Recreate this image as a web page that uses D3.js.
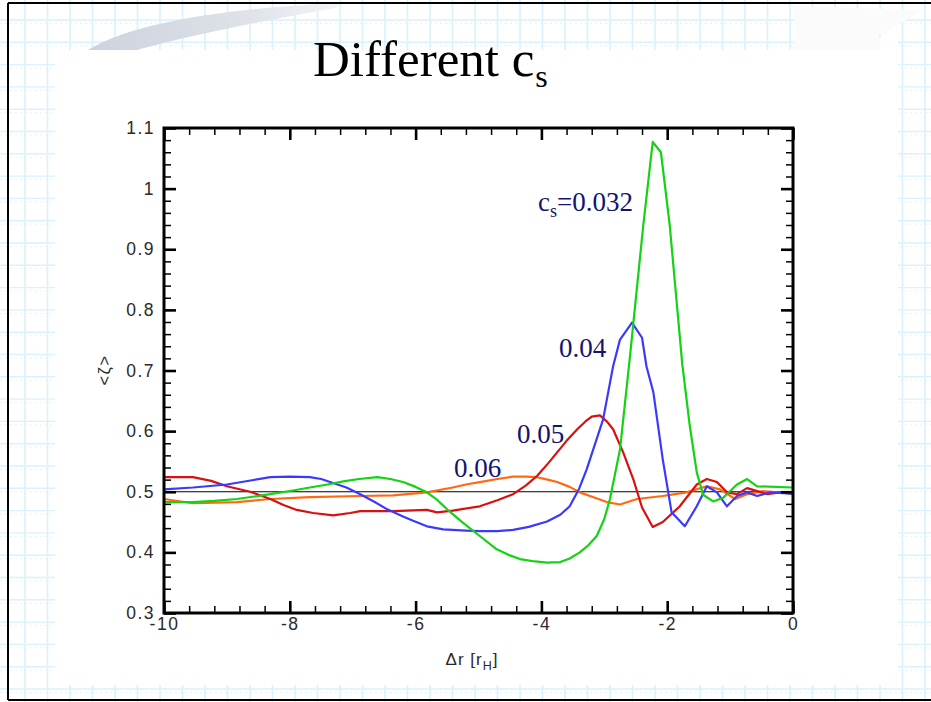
<!DOCTYPE html>
<html><head><meta charset="utf-8">
<script src="https://cdn.jsdelivr.net/npm/d3@7/dist/d3.min.js"></script>
<style>body{margin:0;background:#fff}svg{display:block}</style>
</head><body>
<svg id="c" width="931" height="702"></svg>
<script>
// ---------- data ----------
const titleMain = "Different c";
const titleSub = "s";
const xLabel = "\u0394r [r";
const xLabelSub = "H";
const yLabel = "<\u03B6>";

const xTickValues = [-10, -8, -6, -4, -2, 0];
const xTickLabels = ["-10", "-8", "-6", "-4", "-2", "0"];
const yTickValues = [0.3, 0.4, 0.5, 0.6, 0.7, 0.8, 0.9, 1.0, 1.1];
const yTickLabels = ["0.3", "0.4", "0.5", "0.6", "0.7", "0.8", "0.9", "1", "1.1"];

// c_s = 0.032 (green)
const greenX = [-10, -9.54, -9.2, -8.84, -8.31, -7.95, -7.68, -7.4, -7.15, -6.9, -6.61, -6.4, -6.2, -6.0, -5.82, -5.65, -5.5, -5.25, -4.98, -4.71, -4.5, -4.34, -4.1, -3.91, -3.7, -3.55, -3.39, -3.25, -3.12, -3.0, -2.91, -2.75, -2.59, -2.38, -2.23, -2.1, -1.96, -1.76, -1.64, -1.53, -1.43, -1.27, -1.11, -0.89, -0.73, -0.57, 0];
const greenY = [0.483, 0.483, 0.485, 0.488, 0.496, 0.502, 0.507, 0.512, 0.517, 0.521, 0.524, 0.521, 0.516, 0.508, 0.499, 0.486, 0.471, 0.449, 0.427, 0.405, 0.395, 0.389, 0.385, 0.383, 0.384, 0.390, 0.400, 0.412, 0.427, 0.455, 0.488, 0.570, 0.725, 0.94, 1.077, 1.06, 0.94, 0.71, 0.608, 0.532, 0.495, 0.484, 0.490, 0.512, 0.521, 0.509, 0.507];
// c_s = 0.04 (blue)
const blueX = [-10, -9.54, -9.0, -8.6, -8.31, -8.0, -7.68, -7.5, -7.36, -7.1, -6.88, -6.65, -6.45, -6.2, -6.04, -5.82, -5.56, -5.2, -4.98, -4.7, -4.45, -4.2, -3.91, -3.7, -3.55, -3.4, -3.28, -3.02, -2.86, -2.75, -2.56, -2.4, -2.33, -2.22, -2.07, -1.93, -1.72, -1.53, -1.37, -1.21, -1.05, -0.89, -0.73, -0.57, -0.37, 0];
const blueY = [0.504, 0.507, 0.512, 0.519, 0.524, 0.525, 0.524, 0.521, 0.516, 0.507, 0.496, 0.483, 0.471, 0.459, 0.452, 0.443, 0.438, 0.436, 0.435, 0.435, 0.437, 0.442, 0.451, 0.462, 0.476, 0.505, 0.537, 0.619, 0.707, 0.751, 0.779, 0.754, 0.707, 0.664, 0.553, 0.466, 0.443, 0.476, 0.509, 0.499, 0.476, 0.493, 0.499, 0.493, 0.499, 0.497];
// c_s = 0.05 (red)
const redX = [-10, -9.54, -9.25, -9.0, -8.63, -8.31, -8.1, -7.89, -7.63, -7.31, -7.04, -6.88, -6.36, -5.82, -5.66, -5.41, -4.98, -4.7, -4.45, -4.25, -4.07, -3.9, -3.75, -3.6, -3.43, -3.3, -3.2, -3.07, -2.96, -2.86, -2.7, -2.54, -2.4, -2.23, -2.07, -1.8, -1.53, -1.37, -1.21, -1.05, -0.89, -0.73, -0.57, -0.41, -0.21, 0];
const redY = [0.524, 0.524, 0.518, 0.509, 0.500, 0.488, 0.478, 0.470, 0.465, 0.461, 0.465, 0.468, 0.468, 0.470, 0.466, 0.469, 0.476, 0.486, 0.496, 0.510, 0.526, 0.546, 0.565, 0.584, 0.603, 0.616, 0.624, 0.626, 0.616, 0.603, 0.565, 0.521, 0.474, 0.442, 0.450, 0.476, 0.512, 0.521, 0.516, 0.499, 0.496, 0.506, 0.501, 0.496, 0.499, 0.497];
// c_s = 0.06 (orange)
const orangeX = [-10, -9.54, -8.84, -8.31, -7.68, -6.88, -6.36, -5.82, -5.41, -5.2, -4.98, -4.7, -4.45, -4.25, -4.07, -3.9, -3.75, -3.55, -3.39, -3.15, -2.96, -2.75, -2.48, -2.07, -1.69, -1.37, -1.16, -0.92, -0.73, -0.48, 0];
const orangeY = [0.488, 0.481, 0.483, 0.488, 0.491, 0.493, 0.494, 0.499, 0.507, 0.512, 0.516, 0.521, 0.525, 0.525, 0.524, 0.520, 0.516, 0.508, 0.499, 0.490, 0.483, 0.479, 0.488, 0.493, 0.499, 0.509, 0.504, 0.488, 0.496, 0.501, 0.497];

const seriesLabels = ["c_s=0.032", "0.04", "0.05", "0.06"];
const referenceLevel = 0.5;

// ---------- drawing ----------
const svg = d3.select("#c");
const W = 931, H = 702;

// slide background grid
const gridG = svg.append("g");
const gridColor = "#d9f2fb";
d3.range(0, 42).forEach(k => {
  const gx = 25 + 22.5 * k;
  gridG.append("line").attr("x1", gx).attr("x2", gx).attr("y1", 0).attr("y2", H)
    .attr("stroke", gridColor).attr("stroke-width", 1.6);
});
d3.range(0, 32).forEach(k => {
  const gy = 20 + 22.3 * k;
  gridG.append("line").attr("x1", 0).attr("x2", W).attr("y1", gy).attr("y2", gy)
    .attr("stroke", gridColor).attr("stroke-width", 1.4);
  gridG.append("line").attr("x1", 0).attr("x2", W).attr("y1", gy + 3.5).attr("y2", gy + 3.5)
    .attr("stroke", "#e4f3f8").attr("stroke-width", 1).attr("stroke-dasharray", "2,3");
});

// swoosh (top-left)
const defs = svg.append("defs");
const grad = defs.append("linearGradient").attr("id", "sw").attr("x1", "0").attr("x2", "1").attr("y1", "0").attr("y2", "0");
grad.append("stop").attr("offset", "0").attr("stop-color", "#cdd3dc");
grad.append("stop").attr("offset", "0.6").attr("stop-color", "#dde1e8");
grad.append("stop").attr("offset", "1").attr("stop-color", "#f2f4f7");
svg.append("path")
  .attr("d", "M88,50 Q150,12 340,3 L336,8 Q210,30 137,50 Z")
  .attr("fill", "url(#sw)");

// white content area
svg.append("rect").attr("x", 55).attr("y", 50).attr("width", 843).attr("height", 635).attr("fill", "#fff");
// white swoosh top-right
svg.append("path")
  .attr("d", "M790,6 L922,10 Q905,22 878,36 L890,50 L790,50 Q802,30 790,6 Z")
  .attr("fill", "#fbfbfb");
svg.append("rect").attr("x", 880).attr("y", 37).attr("width", 18).attr("height", 14).attr("fill", "#fff");

// slide border
svg.append("line").attr("x1", 8).attr("x2", W).attr("y1", 3).attr("y2", 3).attr("stroke", "#000").attr("stroke-width", 2);
svg.append("line").attr("x1", 8).attr("x2", 8).attr("y1", 3).attr("y2", 700).attr("stroke", "#000").attr("stroke-width", 2);
svg.append("line").attr("x1", 8).attr("x2", W).attr("y1", 700).attr("y2", 700).attr("stroke", "#000").attr("stroke-width", 2);

// title
const title = svg.append("text").attr("x", 313).attr("y", 76)
  .attr("font-family", "Liberation Serif, Times New Roman, serif").attr("font-size", 51).attr("fill", "#000");
title.append("tspan").text(titleMain);
title.append("tspan").attr("font-size", 32).attr("dy", 11).attr("dx", 1).text(titleSub);

// scales
const pLeft = 164, pRight = 793, pTop = 128, pBottom = 613;
const x = d3.scaleLinear().domain([-10, 0]).range([pLeft, pRight]);
const y = d3.scaleLinear().domain([0.3, 1.1]).range([pBottom, pTop]);

const plot = svg.append("g");
plot.append("rect").attr("x", pLeft).attr("y", pTop).attr("width", pRight - pLeft).attr("height", pBottom - pTop).attr("fill", "#fff");

// reference line
plot.append("line").attr("x1", x(-10)).attr("x2", x(0)).attr("y1", y(referenceLevel)).attr("y2", y(referenceLevel))
  .attr("stroke", "#000").attr("stroke-width", 1.2);

// series
const line = d3.line().x(d => x(d[0])).y(d => y(d[1]));
const series = [
  { xs: orangeX, ys: orangeY, color: "#ff6a10" },
  { xs: redX, ys: redY, color: "#d81010" },
  { xs: blueX, ys: blueY, color: "#3a3aff" },
  { xs: greenX, ys: greenY, color: "#14d214" }
];
series.forEach(s => {
  plot.append("path").datum(s.xs.map((v, i) => [v, s.ys[i]]))
    .attr("d", line).attr("fill", "none").attr("stroke", s.color)
    .attr("stroke-width", 2.2).attr("stroke-linejoin", "round");
});

// axes
const xMinor = d3.range(-10, 0.0001, 0.4).map(v => +v.toFixed(2));
const yMinor = d3.range(0.3, 1.1001, 0.02).map(v => +v.toFixed(3));
const fontTick = "Liberation Sans, Arial, sans-serif";

function styleAxis(g, w) {
  g.select(".domain").remove();
  g.selectAll(".tick line").attr("stroke", "#000").attr("stroke-width", w);
  g.selectAll(".tick text").attr("font-family", fontTick).attr("font-size", 17.5)
    .attr("fill", "#2a2a2a").attr("letter-spacing", 1.5);
}

// minor ticks
[[d3.axisBottom(x), pBottom], [d3.axisTop(x), pTop]].forEach(([ax, ty]) => {
  const g = plot.append("g").attr("transform", `translate(0,${ty})`)
    .call(ax.tickValues(xMinor).tickSize(-7).tickSizeOuter(0).tickFormat(""));
  styleAxis(g, 1.5);
});
[[d3.axisLeft(y), pLeft], [d3.axisRight(y), pRight]].forEach(([ax, tx]) => {
  const g = plot.append("g").attr("transform", `translate(${tx},0)`)
    .call(ax.tickValues(yMinor).tickSize(-7).tickSizeOuter(0).tickFormat(""));
  styleAxis(g, 1.5);
});
// major ticks
const gxB = plot.append("g").attr("transform", `translate(0,${pBottom})`)
  .call(d3.axisBottom(x).tickValues(xTickValues).tickSize(-12).tickSizeOuter(0).tickPadding(5)
    .tickFormat((d, i) => xTickLabels[i]));
styleAxis(gxB, 2.6);
const gxT = plot.append("g").attr("transform", `translate(0,${pTop})`)
  .call(d3.axisTop(x).tickValues(xTickValues).tickSize(-12).tickSizeOuter(0).tickFormat(""));
styleAxis(gxT, 2.6);
const gyL = plot.append("g").attr("transform", `translate(${pLeft},0)`)
  .call(d3.axisLeft(y).tickValues(yTickValues).tickSize(-12).tickSizeOuter(0).tickPadding(9)
    .tickFormat((d, i) => yTickLabels[i]));
styleAxis(gyL, 2.6);
const gyR = plot.append("g").attr("transform", `translate(${pRight},0)`)
  .call(d3.axisRight(y).tickValues(yTickValues).tickSize(-12).tickSizeOuter(0).tickFormat(""));
styleAxis(gyR, 2.6);

// frame
plot.append("rect").attr("x", pLeft).attr("y", pTop).attr("width", pRight - pLeft).attr("height", pBottom - pTop)
  .attr("fill", "none").attr("stroke", "#000").attr("stroke-width", 3);

// axis titles
const xt = svg.append("text").attr("x", 472).attr("y", 665).attr("text-anchor", "middle")
  .attr("font-family", fontTick).attr("font-size", 17).attr("fill", "#2a2a2a").attr("letter-spacing", 1);
xt.append("tspan").text(xLabel);
xt.append("tspan").attr("font-size", 12.5).attr("dy", 5).text(xLabelSub);
xt.append("tspan").attr("dy", -5).text("]");

svg.append("text").attr("transform", "translate(110,370) rotate(-90)").attr("text-anchor", "middle")
  .attr("font-family", fontTick).attr("font-size", 16.5).attr("fill", "#2a2a2a").attr("letter-spacing", 1.5)
  .text(yLabel);

// annotations
const annColor = "#14146e";
const annFont = "Liberation Serif, Times New Roman, serif";
const a1 = svg.append("text").attr("x", 538).attr("y", 211).attr("font-family", annFont).attr("font-size", 27).attr("fill", annColor);
a1.append("tspan").text("c");
a1.append("tspan").attr("font-size", 18).attr("dy", 6).text("s");
a1.append("tspan").attr("dy", -6).text("=0.032");
[[seriesLabels[1], 559, 357], [seriesLabels[2], 517, 443], [seriesLabels[3], 454, 477]].forEach(([t, tx, ty]) => {
  svg.append("text").attr("x", tx).attr("y", ty).attr("font-family", annFont).attr("font-size", 27)
    .attr("fill", annColor).text(t);
});
</script>
</body></html>
